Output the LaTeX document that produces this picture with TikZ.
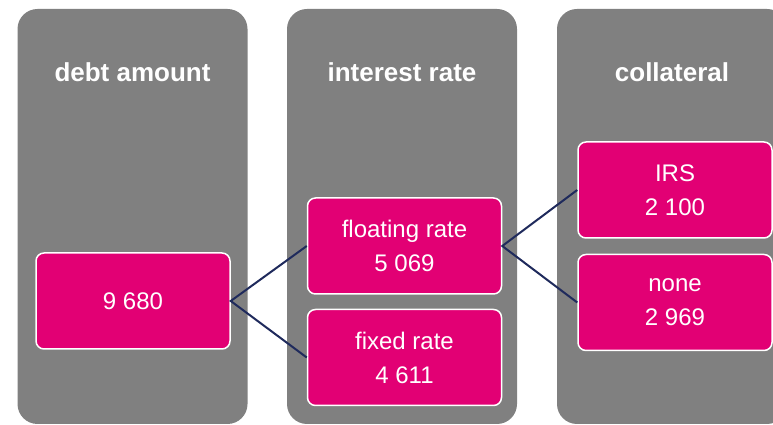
\documentclass[tikz,border=0pt]{standalone}
\usepackage{fontspec}
\setmainfont{Liberation Sans}
\usetikzlibrary{positioning}
\definecolor{colgray}{RGB}{128,128,128}
\definecolor{cellmagenta}{RGB}{226,0,116}
\definecolor{linknavy}{RGB}{31,42,92}

\begin{document}
\begin{tikzpicture}[
    x=1pt, y=1pt,
    node distance=14pt,
    column/.style={fill=colgray, rounded corners=20pt, minimum width=230pt,
                   minimum height=415pt, inner sep=0pt},
    head/.style={text=white, font=\fontsize{26}{30}\selectfont\bfseries},
    cell/.style={draw=white, line width=1.5pt, fill=cellmagenta, rounded corners=8pt,
                 minimum width=194pt, minimum height=96pt, text=white, align=center,
                 font=\fontsize{24}{34}\selectfont},
    link/.style={draw=linknavy, line width=2pt}
  ]
  \useasboundingbox (0,0) rectangle (773,425);
  \clip (0,0) rectangle (773,425);

  % Columns
  \node[column] (debtcol) at (132.5,208.5) {};
  \node[column] (ratecol) at (402,208.5) {};
  \node[column] (collcol) at (672,208.5) {};
  \node[head] (debthead) at (132.5,353) {debt amount};
  \node[head] (ratehead) at (402,353) {interest rate};
  \node[head] (collhead) at (672,353) {collateral};

  % Debt amount
  \node[cell] (debt) at (133,124) {9 680};

  % Interest rate
  \node[cell] (floating) at (404.5,179) {floating rate\\5 069};
  \node[cell, below=of floating] (fixed) {fixed rate\\4 611};

  % Collateral
  \node[cell] (irs) at (675,235) {IRS\\2 100};
  \node[cell, below=15pt of irs] (none) {none\\2 969};

  % Links
  \draw[link] (floating.west) -- (debt.east) -- (fixed.west);
  \draw[link] (irs.west) -- (floating.east) -- (none.west);
\end{tikzpicture}
\end{document}
